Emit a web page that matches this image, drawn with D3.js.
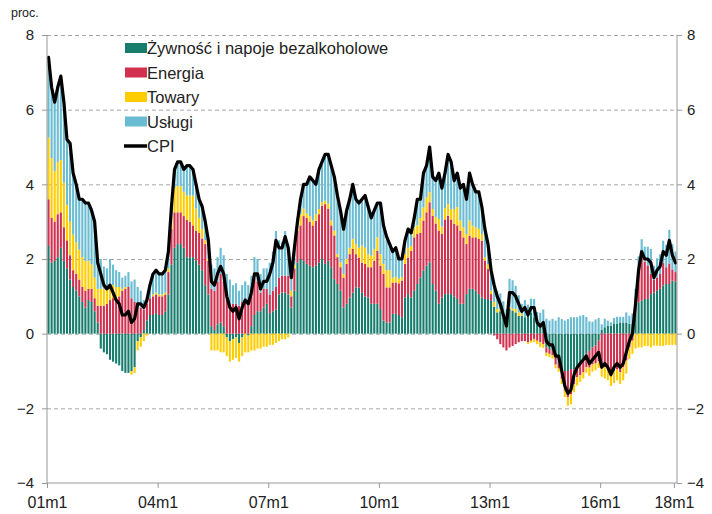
<!DOCTYPE html>
<html><head><meta charset="utf-8">
<script src="https://cdn.jsdelivr.net/npm/d3@7"></script>
<style>body{margin:0;background:#fff;} svg{display:block;font-family:"Liberation Sans",Arial,sans-serif;}</style>
</head><body><svg id="c" width="712" height="514"></svg>
<script>
// ---- data (contributions to CPI y/y, pp) ----
const food = [
2.35,1.9,1.95,2.05,2.3,1.95,1.75,1.45,1.25,1.15,1.0,0.85,
0.7,0.9,0.85,0.6,0.3,-0.4,-0.5,-0.55,-0.7,-0.75,-0.8,-0.85,
-1.0,-1.05,-1.05,-1.0,-0.9,-0.2,-0.1,0.1,0.35,0.5,0.5,0.55,
0.5,0.5,0.6,1.05,1.85,2.3,2.4,2.4,2.3,2.05,2.05,2.05,
1.95,1.85,1.7,1.3,1.05,0.2,0.1,0.25,0.3,0.2,-0.1,-0.2,
-0.15,-0.1,-0.25,-0.1,0.0,-0.05,0.2,0.5,0.6,0.6,0.7,0.8,
0.55,0.6,0.65,1.05,1.1,1.1,1.05,0.7,1.15,1.9,2.0,1.95,
1.87,1.82,1.78,1.82,1.9,2.0,1.87,1.95,1.78,1.46,1.33,1.15,
0.7,0.8,0.97,1.1,1.24,1.24,1.1,1.0,0.97,0.8,0.8,0.8,
0.66,0.35,0.3,0.3,0.53,0.53,0.5,0.44,0.97,1.06,0.97,1.15,
1.33,1.5,1.69,1.82,1.91,1.33,1.15,0.8,0.97,1.06,1.06,1.06,
1.0,0.93,0.8,0.8,1.06,1.2,1.2,1.15,1.06,0.97,0.93,0.93,
0.88,0.72,0.57,0.6,0.44,0.17,0.66,0.62,0.57,0.48,0.48,0.44,
0.48,0.57,0.44,0.26,0.17,0.2,-0.37,-0.41,-0.45,-0.63,-0.8,-0.9,
-1.0,-1.0,-0.95,-0.95,-0.9,-0.8,-0.72,-0.54,-0.46,-0.37,-0.32,-0.19,
0.1,0.17,0.21,0.21,0.26,0.26,0.3,0.3,0.3,0.26,0.26,0.55,
0.84,0.88,0.93,0.93,1.06,1.1,1.15,1.2,1.29,1.33,1.33,1.42,
1.4];
const energy = [
1.25,1.2,1.05,1.15,0.95,0.9,0.75,0.65,0.45,0.45,0.45,0.4,
0.45,0.3,0.35,0.35,0.45,0.75,0.75,0.8,0.9,0.95,0.95,1.0,
1.15,1.2,1.25,0.95,0.85,0.75,0.7,0.55,0.45,0.45,0.5,0.5,
0.5,0.5,0.45,0.6,0.95,0.95,0.85,0.85,0.85,1.0,0.95,0.85,
0.8,0.85,0.85,1.1,0.9,1.0,1.05,1.15,1.3,1.2,0.9,0.75,
0.8,0.8,0.75,0.85,0.95,0.9,0.95,1.0,0.8,0.5,0.5,0.4,
0.5,0.55,0.6,0.45,0.45,0.45,0.5,0.3,0.6,0.85,0.9,1.2,
1.23,1.18,1.12,1.2,1.3,1.43,1.6,1.4,1.12,1.17,0.72,0.63,
0.8,1.07,1.16,1.17,0.89,0.8,0.8,0.87,0.81,0.98,1.15,1.42,
1.16,1.25,0.94,0.94,0.84,0.84,0.85,0.98,0.9,0.98,1.25,1.43,
1.34,1.2,1.34,1.43,1.61,1.83,1.8,1.96,1.7,2.0,2.1,2.0,
1.94,1.97,1.96,1.78,1.34,1.42,1.38,1.43,1.48,1.52,1.03,0.8,
0.18,-0.05,-0.15,-0.28,-0.37,-0.45,-0.37,-0.33,-0.28,-0.23,-0.2,-0.2,
-0.23,-0.19,-0.14,-0.19,-0.23,-0.28,-0.14,-0.13,-0.13,-0.2,-0.13,-0.31,
-0.53,-0.7,-0.67,-0.4,-0.27,-0.31,-0.31,-0.36,-0.45,-0.45,-0.48,-0.55,
-0.85,-0.9,-0.95,-1.05,-1.0,-0.95,-1.03,-0.9,-0.72,-0.37,-0.19,0.4,
0.85,1.15,1.0,0.9,0.55,0.35,0.35,0.4,0.6,0.45,0.55,0.3,
0.25];
const goods = [
1.65,1.6,1.35,1.4,1.4,1.2,0.95,0.9,0.95,0.85,0.8,0.8,
0.8,0.75,0.65,0.55,0.45,0.45,0.45,0.4,0.4,0.35,0.3,0.25,
0.05,0.05,0.0,-0.1,-0.15,-0.25,-0.25,-0.2,-0.05,0.0,0.05,0.05,
0.05,0.05,0.05,0.1,0.35,0.65,0.7,0.7,0.65,0.65,0.7,0.8,
0.6,0.4,0.25,0.1,0.05,-0.45,-0.45,-0.45,-0.5,-0.5,-0.5,-0.55,
-0.55,-0.55,-0.5,-0.5,-0.5,-0.45,-0.45,-0.45,-0.4,-0.4,-0.35,-0.35,
-0.3,-0.3,-0.25,-0.2,-0.15,-0.15,-0.1,0.15,0.1,0.15,0.3,0.2,
0.12,0.15,0.13,0.18,0.14,0.09,0.09,0.13,0.13,0.13,0.08,0.13,
0.1,0.13,0.17,0.27,0.27,0.26,0.46,0.43,0.35,0.31,0.32,0.36,
0.31,0.27,0.46,0.46,0.13,0.15,0.12,0.1,0.26,0.26,0.13,0.27,
0.23,0.4,0.35,0.4,0.27,0.18,0.18,0.31,0.2,0.3,0.31,0.27,
0.4,0.49,0.27,0.27,0.27,0.41,0.31,0.27,0.27,0.18,0.09,0.13,
0.09,0.13,0.09,0.05,0.09,0.1,0.05,0.05,0.09,0.09,0.05,0.0,
-0.05,-0.05,-0.09,-0.09,-0.13,-0.1,-0.09,-0.09,-0.09,-0.1,-0.09,-0.14,
-0.17,-0.23,-0.27,-0.22,-0.22,-0.18,-0.17,-0.15,-0.22,-0.2,-0.18,-0.18,
-0.3,-0.3,-0.3,-0.35,-0.32,-0.3,-0.32,-0.35,-0.35,-0.31,-0.35,-0.4,
-0.37,-0.37,-0.33,-0.33,-0.37,-0.32,-0.32,-0.33,-0.33,-0.3,-0.3,-0.3,
-0.3];
const services = [
2.15,1.9,1.85,2.0,2.25,2.15,1.75,2.1,1.65,1.55,1.35,1.55,
1.55,1.55,1.45,1.5,0.7,0.8,0.6,0.55,0.7,0.55,0.45,0.4,
0.3,0.3,0.4,0.45,0.6,0.5,0.45,0.25,0.15,0.35,0.55,0.6,
0.55,0.55,0.6,0.45,0.25,0.5,0.65,0.65,0.6,0.8,0.8,0.7,
0.65,0.5,0.6,0.5,0.5,0.65,0.6,0.65,0.7,0.7,0.7,0.7,
0.5,0.55,0.4,0.45,0.45,0.4,0.4,0.55,0.6,0.5,0.55,0.55,
0.85,1.05,1.5,1.0,0.9,1.2,0.85,0.35,0.45,0.2,0.45,0.6,
0.78,1.0,1.07,0.8,1.03,1.1,1.21,1.3,1.45,1.43,1.6,1.4,
1.2,1.3,1.3,1.4,1.2,1.2,1.24,1.35,1.25,1.01,1.03,0.92,
1.37,0.98,0.8,0.7,0.7,0.78,0.55,0.5,0.45,0.5,0.35,0.25,
0.66,0.5,0.9,0.81,1.16,0.89,0.97,1.12,1.03,0.94,1.33,1.27,
0.76,0.91,0.87,1.15,0.93,1.27,1.11,0.95,0.99,0.73,0.75,0.54,
0.55,0.5,0.49,0.43,0.34,0.38,0.76,0.76,0.62,0.46,0.27,0.46,
0.3,0.37,0.49,0.32,0.39,0.45,0.4,0.35,0.4,0.35,0.44,0.39,
0.35,0.39,0.44,0.44,0.44,0.48,0.5,0.45,0.33,0.32,0.38,0.42,
0.15,0.23,0.14,0.09,0.16,0.19,0.15,0.15,0.27,0.22,0.28,0.25,
0.38,0.5,0.4,0.5,0.66,0.37,0.52,0.53,0.6,0.6,0.9,0.68,
0.55];
const cpi = [
7.4,6.6,6.2,6.6,6.9,6.2,5.2,5.1,4.3,4.0,3.6,3.6,
3.5,3.5,3.3,3.0,1.9,1.6,1.3,1.2,1.3,1.1,0.9,0.8,
0.5,0.5,0.6,0.3,0.4,0.8,0.8,0.7,0.9,1.3,1.6,1.7,
1.6,1.6,1.7,2.2,3.4,4.4,4.6,4.6,4.4,4.5,4.5,4.4,
4.0,3.6,3.4,3.0,2.5,1.4,1.3,1.6,1.8,1.6,1.0,0.7,
0.6,0.7,0.4,0.7,0.9,0.8,1.1,1.6,1.6,1.2,1.4,1.4,
1.6,1.9,2.5,2.3,2.3,2.6,2.3,1.5,2.3,3.0,3.6,4.0,
4.0,4.2,4.1,4.0,4.4,4.6,4.8,4.8,4.5,4.2,3.7,3.3,
2.8,3.3,3.6,4.0,3.6,3.5,3.6,3.7,3.4,3.1,3.3,3.5,
3.5,2.9,2.6,2.4,2.2,2.3,2.0,2.0,2.5,2.8,2.7,3.1,
3.6,3.6,4.3,4.5,5.0,4.2,4.1,4.3,3.9,4.3,4.8,4.6,
4.1,4.3,3.9,4.0,3.6,4.3,4.0,3.8,3.8,3.4,2.8,2.4,
1.7,1.3,1.0,0.8,0.5,0.2,1.1,1.1,1.0,0.8,0.6,0.7,
0.5,0.7,0.7,0.3,0.2,0.3,-0.2,-0.3,-0.3,-0.6,-0.6,-1.0,
-1.4,-1.6,-1.5,-1.1,-0.9,-0.8,-0.7,-0.6,-0.8,-0.7,-0.6,-0.5,
-0.9,-0.8,-0.9,-1.1,-0.9,-0.8,-0.9,-0.8,-0.5,-0.2,0.0,0.8,
1.7,2.2,2.0,2.0,1.9,1.5,1.7,1.8,2.2,2.1,2.5,2.1,
1.9];

const categories = [];
for (let yr = 2001; yr <= 2018; yr++) {
  for (let m = 1; m <= 12; m++) {
    if (yr === 2018 && m > 1) break;
    categories.push(String(yr % 100).padStart(2, "0") + "m" + m);
  }
}
const tickLabels = ["01m1","04m1","07m1","10m1","13m1","16m1","18m1"];
const yTicks = [-4,-2,0,2,4,6,8];
const seriesKeys = ["food","energy","goods","services"];
const seriesNames = ["Żywność i napoje bezalkoholowe","Energia","Towary","Usługi"];
const seriesColors = ["#167C6C","#D1304F","#FFCC00","#6ABCD2"];

// ---- chart ----
const L = 47, R = 677, T = 35, B = 483;
const svg = d3.select("#c");

const x = d3.scaleBand().domain(categories).range([L, R]).paddingInner(0.32).paddingOuter(0.16);
const xi = d3.scaleLinear().domain([0, categories.length]).range([L, R]);
const y = d3.scaleLinear().domain([-4, 8]).range([B, T]);

// gridlines
svg.append("g").selectAll("line").data(yTicks.filter(v => v > -4)).join("line")
  .attr("x1", L).attr("x2", R).attr("y1", d => y(d) + 0.5).attr("y2", d => y(d) + 0.5)
  .attr("stroke", "#a6a6a6").attr("stroke-width", 1).attr("stroke-dasharray", "4,3");

// stacked bars
const table = categories.map((c, i) => ({cat: c, food: food[i], energy: energy[i], goods: goods[i], services: services[i]}));
const stacked = d3.stack().keys(seriesKeys).offset(d3.stackOffsetDiverging)(table);
svg.append("g").selectAll("g").data(stacked).join("g")
  .attr("fill", (d, k) => seriesColors[k])
  .selectAll("rect").data(d => d).join("rect")
  .attr("x", d => x(d.data.cat)).attr("width", x.bandwidth())
  .attr("y", d => y(Math.max(d[0], d[1])))
  .attr("height", d => Math.abs(y(d[0]) - y(d[1])));

// CPI line
svg.append("path").datum(cpi)
  .attr("fill", "none").attr("stroke", "#000").attr("stroke-width", 3.2)
  .attr("stroke-linejoin", "round").attr("stroke-linecap", "round")
  .attr("d", d3.line().x((d, i) => x(categories[i]) + x.bandwidth() / 2).y(d => y(d)));

// axes
const axisColor = "#999";
const gL = svg.append("g").attr("transform", `translate(${L},0)`)
  .call(d3.axisLeft(y).tickValues(yTicks).tickSize(5).tickPadding(8).tickFormat(d3.format("d")));
const gR = svg.append("g").attr("transform", `translate(${R},0)`)
  .call(d3.axisRight(y).tickValues(yTicks).tickSize(5).tickPadding(5).tickFormat(d3.format("d")));
const gB = svg.append("g").attr("transform", `translate(0,${B})`)
  .call(d3.axisBottom(xi).tickValues([0,36,72,108,144,180,204]).tickSize(5).tickPadding(9)
    .tickFormat((d, k) => tickLabels[k]));
[gL, gR, gB].forEach(g => {
  g.select(".domain").attr("stroke", axisColor);
  g.selectAll(".tick line").attr("stroke", axisColor);
  g.selectAll("text").attr("fill", "#222").attr("font-family", '"Liberation Sans", Arial, sans-serif');
});
gL.selectAll("text").attr("font-size", 15);
gR.selectAll("text").attr("font-size", 15);
gB.selectAll("text").attr("font-size", 16);
gL.select(".domain").attr("d", `M0,${T}V${B}`);
gR.select(".domain").attr("d", `M0,${T}V${B}`);
gB.select(".domain").attr("d", `M${L},0H${R}`);

// unit label
svg.append("text").attr("x", 11).attr("y", 17).attr("font-size", 12.5).attr("fill", "#222").text("proc.");

// legend
const lg = svg.append("g");
const rowY = [48, 72.5, 97, 121.5];
seriesNames.forEach((name, k) => {
  lg.append("rect").attr("x", 125).attr("y", rowY[k] - 5).attr("width", 22).attr("height", 10).attr("fill", seriesColors[k]);
  lg.append("text").attr("x", 147).attr("y", rowY[k] + 6).attr("font-size", 16.5).attr("fill", "#222").text(name);
});
lg.append("line").attr("x1", 124).attr("x2", 147).attr("y1", 146).attr("y2", 146).attr("stroke", "#000").attr("stroke-width", 3.5);
lg.append("text").attr("x", 147).attr("y", 152).attr("font-size", 16.5).attr("fill", "#222").text("CPI");
</script></body></html>
